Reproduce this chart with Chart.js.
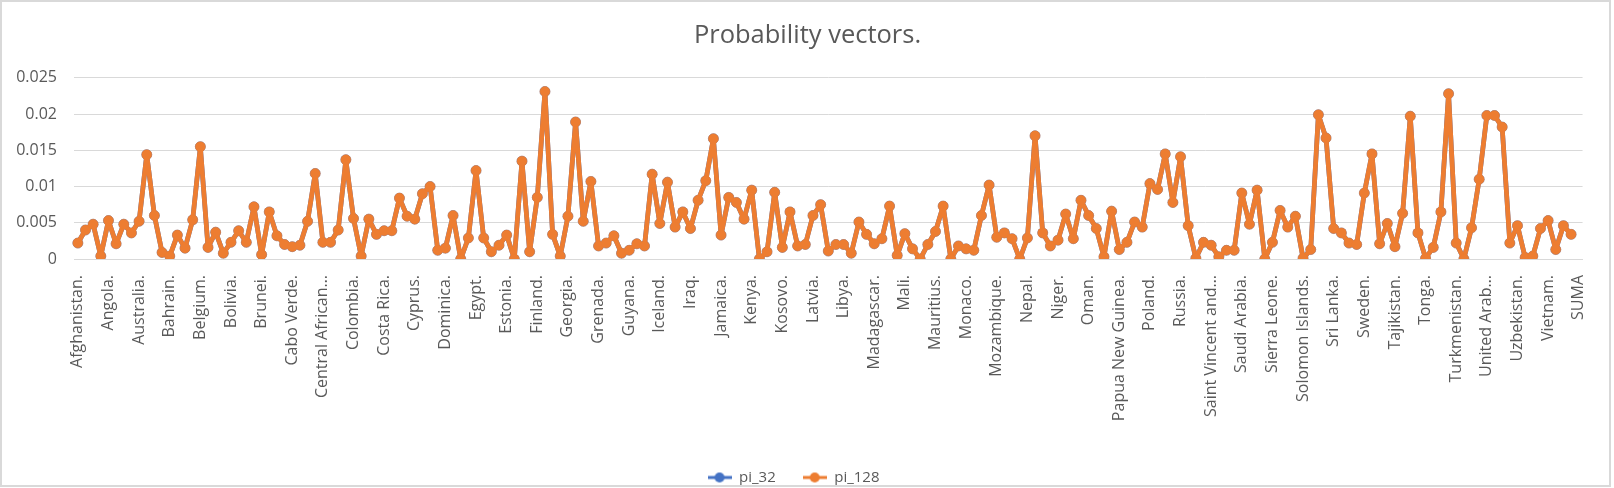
<!DOCTYPE html>
<html>
<head>
<meta charset="utf-8">
<script src="https://cdn.jsdelivr.net/npm/chart.js@4.4.1/dist/chart.umd.min.js"></script>
<style>
  html, body { margin: 0; padding: 0; background: #ffffff; }
  #wrap { position: relative; width: 1614px; height: 488px; overflow: hidden; }
  #c { position: absolute; left: 0; top: 0; }
  #frame { position: absolute; left: 0; top: 0; width: 1611px; height: 487px; box-sizing: border-box; border: 2px solid #d9d9d9; pointer-events: none; }
</style>
</head>
<body>
<div id="wrap">
  <canvas id="c" width="1614" height="488"></canvas>
  <div id="frame"></div>
</div>
<script>
const categories = [
  "Afghanistan.","Albania.","Algeria.","Andorra.","Angola.","Antigua and Barbuda.","Argentina.","Armenia.",
  "Australia.","Austria.","Azerbaijan.","Bahamas.","Bahrain.","Bangladesh.","Barbados.","Belarus.",
  "Belgium.","Belize.","Benin.","Bhutan.","Bolivia.","Bosnia and Herzegovina.","Botswana.","Brazil.",
  "Brunei.","Bulgaria.","Burkina Faso.","Burundi.","Cabo Verde.","Cambodia.","Cameroon.","Canada.",
  "Central African Republic.","Chad.","Chile.","China.","Colombia.","Comoros.","Congo (Brazzaville).","Congo (Kinshasa).",
  "Costa Rica.","Côte d'Ivoire.","Croatia.","Cuba.","Cyprus.","Czechia.","Denmark.","Djibouti.",
  "Dominica.","Dominican Republic.","East Timor.","Ecuador.","Egypt.","El Salvador.","Equatorial Guinea.","Eritrea.",
  "Estonia.","Eswatini.","Ethiopia.","Fiji.","Finland.","France.","Gabon.","Gambia.",
  "Georgia.","Germany.","Ghana.","Greece.","Grenada.","Guatemala.","Guinea.","Guinea-Bissau.",
  "Guyana.","Haiti.","Honduras.","Hungary.","Iceland.","India.","Indonesia.","Iran.",
  "Iraq.","Ireland.","Israel.","Italy.","Jamaica.","Japan.","Jordan.","Kazakhstan.",
  "Kenya.","Kiribati.","Korea, North.","Korea, South.","Kosovo.","Kuwait.","Kyrgyzstan.","Laos.",
  "Latvia.","Lebanon.","Lesotho.","Liberia.","Libya.","Liechtenstein.","Lithuania.","Luxembourg.",
  "Madagascar.","Malawi.","Malaysia.","Maldives.","Mali.","Malta.","Marshall Islands.","Mauritania.",
  "Mauritius.","Mexico.","Micronesia.","Moldova.","Monaco.","Mongolia.","Montenegro.","Morocco.",
  "Mozambique.","Myanmar.","Namibia.","Nauru.","Nepal.","Netherlands.","New Zealand.","Nicaragua.",
  "Niger.","Nigeria.","North Macedonia.","Norway.","Oman.","Pakistan.","Palau.","Panama.",
  "Papua New Guinea.","Paraguay.","Peru.","Philippines.","Poland.","Portugal.","Qatar.","Romania.",
  "Russia.","Rwanda.","Saint Kitts and Nevis.","Saint Lucia.","Saint Vincent and the Grenadines.","Samoa.","San Marino.","Sao Tome and Principe.",
  "Saudi Arabia.","Senegal.","Serbia.","Seychelles.","Sierra Leone.","Singapore.","Slovakia.","Slovenia.",
  "Solomon Islands.","Somalia.","South Africa.","Spain.","Sri Lanka.","South Sudan.","Sudan.","Suriname.",
  "Sweden.","Switzerland.","Syria.","Taiwan.","Tajikistan.","Tanzania.","Thailand.","Togo.",
  "Tonga.","Trinidad and Tobago.","Tunisia.","Turkey.","Turkmenistan.","Tuvalu.","Uganda.","Ukraine.",
  "United Arab Emirates.","United Kingdom.","United States.","Uruguay.","Uzbekistan.","Vanuatu.","Vatican City.","Venezuela.",
  "Vietnam.","Yemen.","Zambia.","Zimbabwe.","SUMA"
];

const pi_128 = [
  0.0022,0.0040,0.0048,0.0004,0.0053,0.0021,0.0048,0.0036,
  0.0052,0.0144,0.0060,0.0009,0.0004,0.0033,0.0015,0.0054,
  0.0155,0.0016,0.0037,0.0008,0.0023,0.0039,0.0023,0.0072,
  0.0006,0.0065,0.0032,0.0020,0.0017,0.0019,0.0052,0.0118,
  0.0023,0.0023,0.0040,0.0137,0.0056,0.0004,0.0055,0.0034,
  0.0039,0.0039,0.0084,0.0059,0.0055,0.0090,0.0100,0.0012,
  0.0015,0.0060,0.0000,0.0029,0.0122,0.0029,0.0010,0.0019,
  0.0033,0.0000,0.0135,0.0010,0.0085,0.0231,0.0034,0.0004,
  0.0059,0.0189,0.0052,0.0107,0.0018,0.0022,0.0032,0.0008,
  0.0012,0.0021,0.0018,0.0117,0.0049,0.0106,0.0044,0.0065,
  0.0042,0.0081,0.0108,0.0166,0.0033,0.0085,0.0078,0.0055,
  0.0095,0.0000,0.0010,0.0092,0.0016,0.0065,0.0018,0.0020,
  0.0060,0.0075,0.0011,0.0020,0.0020,0.0008,0.0051,0.0034,
  0.0021,0.0028,0.0073,0.0005,0.0035,0.0014,0.0000,0.0020,
  0.0038,0.0073,0.0000,0.0018,0.0014,0.0012,0.0060,0.0102,
  0.0030,0.0036,0.0028,0.0000,0.0029,0.0170,0.0036,0.0018,
  0.0026,0.0062,0.0028,0.0081,0.0060,0.0042,0.0003,0.0066,
  0.0013,0.0023,0.0051,0.0044,0.0104,0.0096,0.0145,0.0078,
  0.0141,0.0046,0.0001,0.0023,0.0019,0.0003,0.0012,0.0012,
  0.0091,0.0048,0.0095,0.0000,0.0023,0.0067,0.0044,0.0059,
  0.0001,0.0013,0.0199,0.0167,0.0042,0.0036,0.0022,0.0020,
  0.0091,0.0145,0.0021,0.0049,0.0017,0.0063,0.0197,0.0036,
  0.0001,0.0016,0.0065,0.0228,0.0022,0.0000,0.0043,0.0110,
  0.0198,0.0198,0.0182,0.0022,0.0046,0.0002,0.0004,0.0042,
  0.0053,0.0013,0.0046,0.0034,null
];

const pi_32 = [
  0.0022,0.0040,0.0048,0.0004,0.0053,0.0021,0.0048,0.0036,
  0.0052,0.0144,0.0060,0.0009,0.0004,0.0033,0.0015,0.0054,
  0.0155,0.0016,0.0037,0.0008,0.0023,0.0039,0.0023,0.0072,
  0.0006,0.0065,0.0032,0.0020,0.0017,0.0019,0.0052,0.0118,
  0.0023,0.0023,0.0040,0.0137,0.0056,0.0004,0.0055,0.0034,
  0.0039,0.0039,0.0084,0.0059,0.0055,0.0090,0.0100,0.0012,
  0.0015,0.0060,0.0000,0.0029,0.0122,0.0029,0.0010,0.0019,
  0.0033,0.0000,0.0135,0.0010,0.0085,0.0231,0.0034,0.0004,
  0.0059,0.0189,0.0052,0.0107,0.0018,0.0022,0.0032,0.0008,
  0.0012,0.0021,0.0018,0.0117,0.0049,0.0106,0.0044,0.0065,
  0.0042,0.0081,0.0108,0.0166,0.0033,0.0085,0.0078,0.0055,
  0.0095,0.0000,0.0010,0.0092,0.0016,0.0065,0.0018,0.0020,
  0.0060,0.0075,0.0011,0.0020,0.0020,0.0008,0.0051,0.0034,
  0.0021,0.0028,0.0073,0.0005,0.0035,0.0014,0.0000,0.0020,
  0.0038,0.0073,0.0000,0.0018,0.0014,0.0012,0.0060,0.0102,
  0.0030,0.0036,0.0028,0.0000,0.0029,0.0170,0.0036,0.0018,
  0.0026,0.0062,0.0028,0.0081,0.0060,0.0042,0.0003,0.0066,
  0.0013,0.0023,0.0051,0.0044,0.0104,0.0096,0.0145,0.0078,
  0.0141,0.0046,0.0001,0.0023,0.0019,0.0003,0.0012,0.0012,
  0.0091,0.0048,0.0095,0.0000,0.0023,0.0067,0.0044,0.0059,
  0.0001,0.0013,0.0199,0.0167,0.0042,0.0036,0.0022,0.0020,
  0.0091,0.0145,0.0021,0.0049,0.0017,0.0063,0.0197,0.0036,
  0.0001,0.0016,0.0065,0.0228,0.0022,0.0000,0.0043,0.0110,
  0.0198,0.0198,0.0182,0.0022,0.0046,0.0002,0.0004,0.0042,
  0.0053,0.0013,0.0046,0.0034,null
];

const yTicks = [0, 0.005, 0.01, 0.015, 0.02, 0.025];
const seriesNames = ["pi_32", "pi_128"];
const seriesColors = ["#4472C4", "#ED7D31"];
const titleText = "Probability vectors.";
const labelEvery = 4;

const TEXT = "#595959";
const GRID = "#d9d9d9";
const FONT = "'Open Sans', 'Noto Sans', sans-serif";

function truncLabel(s) {
  if (s.length <= 18) return s;
  const cut = s.slice(0, 18);
  const sp = cut.lastIndexOf(" ");
  return (sp > 0 ? cut.slice(0, sp) : cut.slice(0, 17)) + "\u2026";
}

function legendIcon(color) {
  const cv = document.createElement("canvas");
  cv.width = 24; cv.height = 12;
  const g = cv.getContext("2d");
  g.strokeStyle = color; g.lineWidth = 3;
  g.beginPath(); g.moveTo(0, 6); g.lineTo(24, 6); g.stroke();
  g.fillStyle = color;
  g.beginPath(); g.arc(12, 6, 5, 0, Math.PI * 2); g.fill();
  return cv;
}

const LEGEND_DX = -2, LEGEND_DY = 14, TITLE_DX = 12;
const boxShift = {
  id: "boxShift",
  afterLayout(chart) {
    const lg = chart.legend;
    if (lg) { lg.left += LEGEND_DX; lg.right += LEGEND_DX; lg.top += LEGEND_DY; lg.bottom += LEGEND_DY; }
    const tb = chart.titleBlock;
    if (tb) { tb.left += TITLE_DX; tb.right += TITLE_DX; }
  }
};

new Chart(document.getElementById("c"), {
  type: "line",
  data: {
    labels: categories,
    datasets: [
      { label: seriesNames[0], data: pi_32, order: 1,
        borderColor: seriesColors[0], backgroundColor: seriesColors[0],
        borderWidth: 4.75, borderJoinStyle: "round", borderCapStyle: "round",
        pointRadius: 5, pointBorderWidth: 0.5, pointHoverRadius: 5, tension: 0 },
      { label: seriesNames[1], data: pi_128, order: 0,
        borderColor: seriesColors[1], backgroundColor: seriesColors[1],
        borderWidth: 4.75, borderJoinStyle: "round", borderCapStyle: "round",
        pointRadius: 5, pointBorderWidth: 0.5, pointHoverRadius: 5, tension: 0 }
    ]
  },
  plugins: [boxShift],
  options: {
    responsive: false,
    animation: false,
    devicePixelRatio: 1,
    layout: { padding: { left: 0, right: 23, top: 0, bottom: 7 } },
    plugins: {
      tooltip: { enabled: false },
      title: {
        display: true, text: titleText, color: TEXT,
        font: { family: FONT, size: 25.5, weight: "normal", lineHeight: 1.2 },
        padding: { top: 20, bottom: 27.2 }
      },
      legend: {
        display: true, position: "bottom",
        labels: {
          color: TEXT, font: { family: FONT, size: 15 },
          usePointStyle: true, pointStyleWidth: 24, boxHeight: 15, padding: 27,
          generateLabels(chart) {
            return chart.data.datasets.map((ds, i) => ({
              text: ds.label, fillStyle: ds.borderColor, strokeStyle: ds.borderColor,
              fontColor: TEXT, lineWidth: 0, hidden: false, datasetIndex: i,
              pointStyle: legendIcon(ds.borderColor)
            }));
          }
        }
      }
    },
    scales: {
      x: {
        type: "category",
        offset: true,
        grid: { display: false, drawTicks: false },
        border: { display: true, color: GRID, width: 1 },
        ticks: {
          autoSkip: false, minRotation: 90, maxRotation: 90, padding: 16,
          color: TEXT, font: { family: FONT, size: 16 },
          callback(v, i) { return i % labelEvery === 0 ? truncLabel(categories[i]) : ""; }
        },
        afterFit(scale) { scale.height = 170; }
      },
      y: {
        min: yTicks[0], max: yTicks[yTicks.length - 1],
        grid: { color: GRID, lineWidth: 1, drawTicks: false },
        border: { display: false },
        afterBuildTicks(scale) { scale.ticks = yTicks.map(v => ({ value: v })); },
        ticks: {
          padding: 17, color: TEXT, font: { family: FONT, size: 16 },
          callback(v) { return v === 0 ? "0" : String(+v.toFixed(3)); }
        },
        afterFit(scale) { scale.width = 74; }
      }
    }
  }
});
</script>
</body>
</html>
